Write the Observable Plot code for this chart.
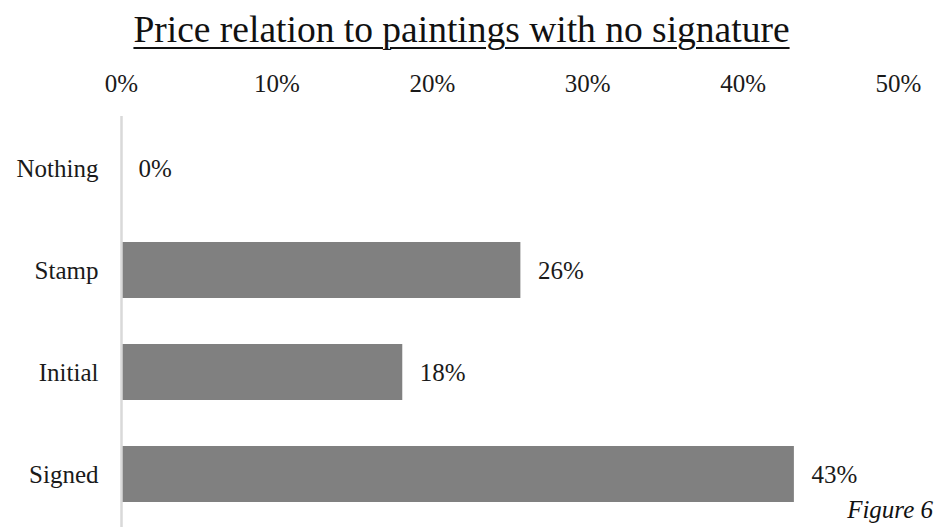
<!DOCTYPE html>
<html><head><meta charset="utf-8">
<script src="https://cdn.jsdelivr.net/npm/d3@7"></script>
<script src="https://cdn.jsdelivr.net/npm/@observablehq/plot@0.6"></script>
<style>
body{margin:0;background:#fff;}
#wrap{position:relative;width:940px;height:527px;overflow:hidden;font-family:'Liberation Serif','Times New Roman','DejaVu Serif',serif;}
#title{height:55px;box-sizing:border-box;padding-right:17px;text-align:center;font-size:37.5px;line-height:60px;text-decoration:underline;text-decoration-thickness:1.5px;text-underline-offset:5px;color:#111;}
#fig{position:absolute;right:7px;bottom:3px;font-style:italic;font-size:25px;color:#111;}
</style></head>
<body><div id="wrap"><div id="title">Price relation to paintings with no signature</div><div id="chart"></div><div id="fig">Figure 6</div></div>
<script>
const categories = ["Nothing", "Stamp", "Initial", "Signed"];
const values = [0, 0.257, 0.181, 0.433];
const xTicks = [0, 0.1, 0.2, 0.3, 0.4, 0.5];

const pct = d => Math.round(d * 100) + "%";
const data = categories.map((c, i) => ({cat: c, v: values[i]}));

const chart = Plot.plot({
  width: 940,
  height: 472,
  marginLeft: 121,
  marginRight: 42,
  marginTop: 61,
  marginBottom: 0,
  style: {fontFamily: "'Liberation Serif', 'Times New Roman', serif", fontSize: "25px", color: "#1a1a1a", background: "white"},
  x: {domain: [0, 0.5], axis: "top", ticks: xTicks, tickFormat: pct, tickSize: 0, tickPadding: 25, label: null},
  y: {domain: categories, paddingInner: 0.45, paddingOuter: 0.225, tickSize: 0, tickPadding: 23, label: null},
  marks: [
    Plot.barX(data, {x: "v", y: "cat", fill: "#808080"}),
    Plot.ruleX([0], {stroke: "#d9d9d9", strokeWidth: 2.5}),
    Plot.text(data, {x: "v", y: "cat", text: d => pct(d.v), textAnchor: "start", dx: 17, fontSize: 25, fill: "#1a1a1a"})
  ]
});
document.getElementById("chart").appendChild(chart);
</script></body></html>
